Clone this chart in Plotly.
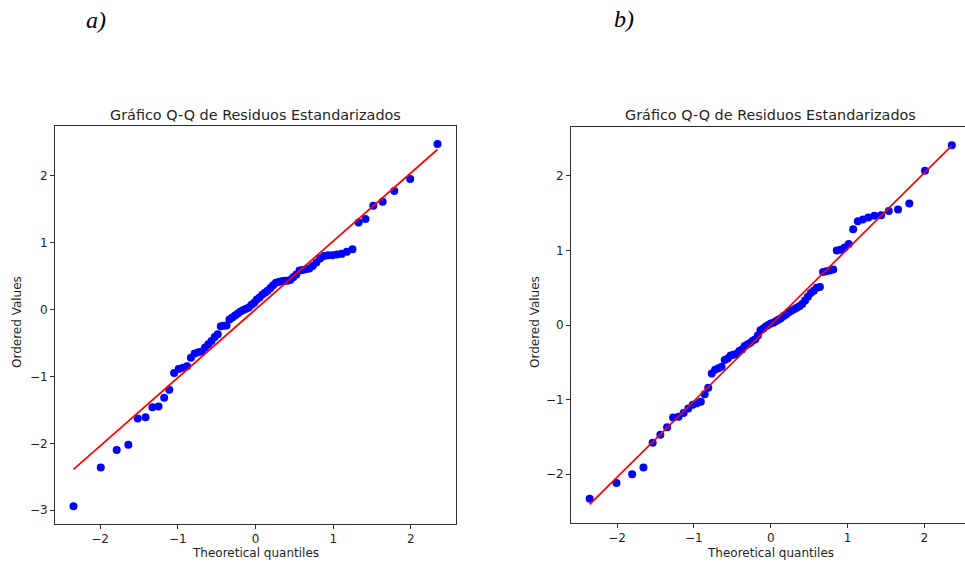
import plotly.graph_objects as go

# ---------------- data ----------------
left_theoretical = [-2.342, -1.991, -1.786, -1.636, -1.516, -1.415, -1.327, -1.248, -1.175, -1.109,
                    -1.047, -0.989, -0.934, -0.881, -0.831, -0.783, -0.737, -0.692, -0.649, -0.607,
                    -0.566, -0.525, -0.486, -0.447, -0.409, -0.372, -0.335, -0.299, -0.263, -0.227,
                    -0.192, -0.156, -0.121, -0.087, -0.052, -0.017,
                    0.017, 0.052, 0.087, 0.121, 0.156, 0.192, 0.227, 0.263, 0.299, 0.335,
                    0.372, 0.409, 0.447, 0.486, 0.525, 0.566, 0.607, 0.649, 0.692, 0.737,
                    0.783, 0.831, 0.881, 0.934, 0.989, 1.047, 1.109, 1.175, 1.248, 1.327,
                    1.415, 1.516, 1.636, 1.786, 1.991, 2.342]
left_ordered = [-2.94, -2.36, -2.10, -2.02, -1.63, -1.61, -1.46, -1.45, -1.32, -1.20,
                -0.95, -0.89, -0.87, -0.85, -0.72, -0.66, -0.64, -0.63, -0.57, -0.52,
                -0.47, -0.41, -0.37, -0.25, -0.245, -0.24, -0.15, -0.12, -0.09, -0.06,
                -0.03, -0.01, 0.01, 0.03, 0.07, 0.10,
                0.15, 0.18, 0.22, 0.25, 0.28, 0.32, 0.36, 0.40, 0.41, 0.42,
                0.43, 0.43, 0.44, 0.48, 0.52, 0.58, 0.59, 0.60, 0.61, 0.65,
                0.70, 0.76, 0.80, 0.81, 0.81, 0.82, 0.83, 0.86, 0.90, 1.30,
                1.35, 1.55, 1.61, 1.77, 1.95, 2.47]
left_slope = 1.02
left_intercept = 0.0

right_theoretical = [-2.357, -2.008, -1.804, -1.657, -1.537, -1.437, -1.349, -1.271, -1.200, -1.134,
                     -1.073, -1.015, -0.961, -0.910, -0.860, -0.813, -0.768, -0.724, -0.681, -0.640,
                     -0.599, -0.560, -0.522, -0.484, -0.447, -0.410, -0.374, -0.339, -0.304, -0.269,
                     -0.235, -0.201, -0.167, -0.133, -0.100, -0.066, -0.033,
                     0.0,
                     0.033, 0.066, 0.100, 0.133, 0.167, 0.201, 0.235, 0.269, 0.304, 0.339,
                     0.374, 0.410, 0.447, 0.484, 0.522, 0.560, 0.599, 0.640, 0.681, 0.724,
                     0.768, 0.813, 0.860, 0.910, 0.961, 1.015, 1.073, 1.134, 1.200, 1.271,
                     1.349, 1.437, 1.537, 1.657, 1.804, 2.008, 2.357]
right_ordered = [-2.33, -2.12, -2.00, -1.91, -1.58, -1.47, -1.37, -1.24, -1.23, -1.18,
                 -1.12, -1.07, -1.05, -1.03, -0.93, -0.84, -0.65, -0.60, -0.58, -0.56,
                 -0.47, -0.45, -0.41, -0.40, -0.39, -0.35, -0.33, -0.28, -0.26, -0.24,
                 -0.21, -0.19, -0.14, -0.07, -0.05, -0.02, 0.00,
                 0.02,
                 0.03, 0.05, 0.07, 0.09, 0.12, 0.14, 0.17, 0.19, 0.21, 0.23,
                 0.25, 0.28, 0.33, 0.38, 0.43, 0.46, 0.50, 0.51, 0.71, 0.72,
                 0.73, 0.745, 1.00, 1.01, 1.04, 1.085, 1.285, 1.39, 1.415, 1.44,
                 1.465, 1.47, 1.53, 1.55, 1.63, 2.07, 2.41]
right_slope = 1.02
right_intercept = 0.0

x_ticks = [-2, -1, 0, 1, 2]
left_y_ticks = [-3, -2, -1, 0, 1, 2]
right_y_ticks = [-2, -1, 0, 1, 2]

panel_labels = ["a)", "b)"]
title_text = "Gráfico Q-Q de Residuos Estandarizados"
x_label = "Theoretical quantiles"
y_label = "Ordered Values"

# ---------------- figure ----------------
W, H = 965, 563
def px(x):
    return x / W
def py(y):
    return 1 - y / H

FONT = "DejaVu Sans"
TXT = "#1f1f1f"
AX = "#2e2e2e"

fig = go.Figure()

def add_panel(xt, yo, slope, intercept, xa, ya):
    fig.add_trace(go.Scatter(x=xt, y=yo, mode="markers",
                             marker=dict(color="#0000ff", size=8, line=dict(width=0)),
                             xaxis=xa, yaxis=ya, showlegend=False, cliponaxis=False))
    x0, x1 = min(xt), max(xt)
    fig.add_trace(go.Scatter(x=[x0, x1], y=[slope * x0 + intercept, slope * x1 + intercept],
                             mode="lines", line=dict(color="#ff0000", width=1.7),
                             xaxis=xa, yaxis=ya, showlegend=False))

add_panel(left_theoretical, left_ordered, left_slope, left_intercept, "x", "y")
add_panel(right_theoretical, right_ordered, right_slope, right_intercept, "x2", "y2")

axis_common = dict(showgrid=False, zeroline=False, showline=True, linecolor=AX, linewidth=1,
                   ticks="outside", ticklen=4, tickwidth=1, tickcolor=AX,
                   tickfont=dict(family=FONT, size=12, color=TXT))

fig.update_layout(
    width=W, height=H,
    margin=dict(l=0, r=0, t=0, b=0),
    paper_bgcolor="white", plot_bgcolor="white",
    showlegend=False,
    xaxis=dict(domain=[px(55), px(456)], range=[-2.58, 2.58], tickvals=x_ticks,
               mirror=True, anchor="y", **axis_common),
    yaxis=dict(domain=[py(524), py(126)], range=[-3.205, 2.74], tickvals=left_y_ticks,
               mirror=True, anchor="x", **axis_common),
    xaxis2=dict(domain=[px(571), 1.0], range=[-2.60, 2.529], tickvals=x_ticks,
                mirror=True, anchor="y2", **axis_common),
    yaxis2=dict(domain=[py(523), py(127)], range=[-2.655, 2.655], tickvals=right_y_ticks,
                mirror=False, anchor="x2", **axis_common),
)

ann = []
# panel titles and x labels
for cx in (255.5, 770.5):
    ann.append(dict(x=px(cx), y=py(115), xref="paper", yref="paper", text=title_text,
                    showarrow=False, xanchor="center", yanchor="middle",
                    font=dict(family=FONT, size=14.4, color=TXT)))
    ann.append(dict(x=px(cx), y=py(553), xref="paper", yref="paper", text=x_label,
                    showarrow=False, xanchor="center", yanchor="middle",
                    font=dict(family=FONT, size=12, color=TXT)))
# y labels
for cx, cy in ((17, 322), (535, 322)):
    ann.append(dict(x=px(cx), y=py(cy), xref="paper", yref="paper", text=y_label,
                    showarrow=False, xanchor="center", yanchor="middle", textangle=-90,
                    font=dict(family=FONT, size=12, color=TXT)))
# panel letters
for (cx, cy), lab in zip(((96, 20), (624, 19)), panel_labels):
    ann.append(dict(x=px(cx), y=py(cy), xref="paper", yref="paper", text="<i>" + lab + "</i>",
                    showarrow=False, xanchor="center", yanchor="middle",
                    font=dict(family="Liberation Serif", size=24, color="#000000")))
fig.update_layout(annotations=ann)

fig.write_html("out.html",
               config={"displayModeBar": False, "staticPlot": True},
               post_script="document.body.style.margin='0px';document.body.style.overflow='hidden';")
